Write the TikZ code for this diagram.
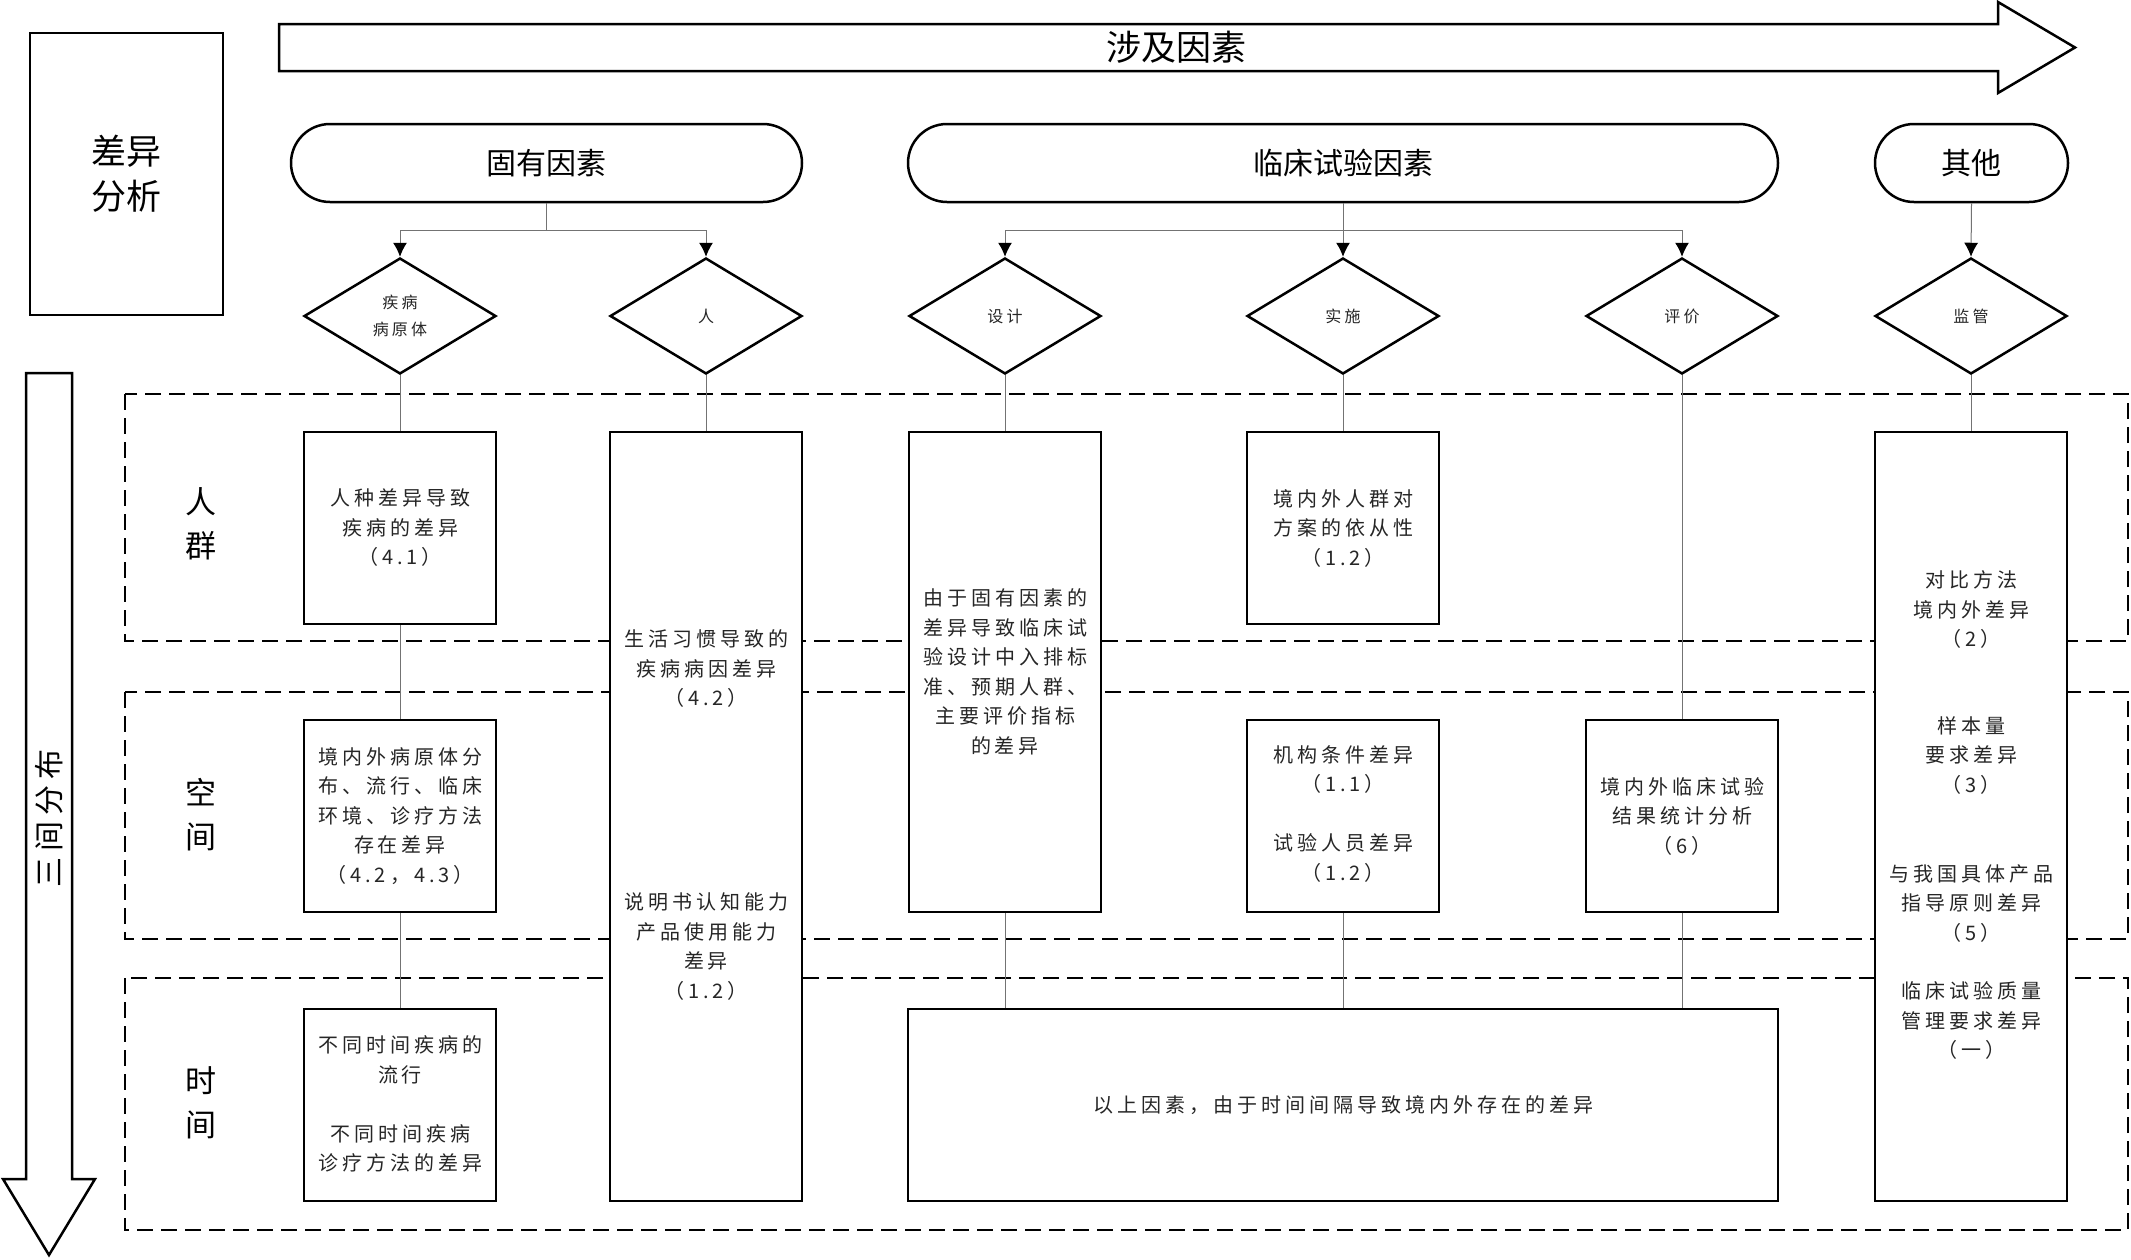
\documentclass[tikz,border=0pt]{standalone}
\usepackage{fontspec}
\setmainfont{Noto Sans CJK SC}
\newfontfamily\myspaced[LetterSpace=20]{Noto Sans CJK SC}
\newfontfamily\myplain{Noto Sans CJK SC}
\usetikzlibrary{shapes.geometric,arrows.meta,backgrounds}
\newcommand\myboxfont{\myspaced\fontsize{20}{29.5}\selectfont}
\newcommand\mydiafont{\myspaced\fontsize{16}{27}\selectfont}
\newcommand\mystadfont{\myplain\fontsize{30}{36}\selectfont}
\newcommand\mytitlefont{\myplain\fontsize{35}{45}\selectfont}
\newcommand\mysidefont{\myplain\fontsize{31}{44}\selectfont}
\begin{document}
\begin{tikzpicture}[x=1pt,y=-1pt,
  box/.style={draw,line width=2.5pt,fill=white,rectangle,inner sep=0pt,minimum width=192pt},
  dia/.style={draw,line width=2.5pt,fill=white,diamond,aspect=1.66,inner sep=0pt,minimum width=192pt,minimum height=116pt,font=\mydiafont,align=center,text=black!85},
  stad/.style={draw,line width=2.5pt,fill=white,rectangle,rounded corners=39pt,minimum height=78pt,inner sep=0pt,font=\mystadfont},
  txt/.style={font=\myboxfont,align=center,text=black!85,inner sep=0pt},
  side/.style={font=\mysidefont,align=center,inner sep=0pt},
  conn/.style={draw=black!55,line width=1pt},
  arr/.style={conn,-{Latex[length=14pt,width=14pt,color=black]}},
  band/.style={draw,line width=2.5pt,dash pattern=on 16pt off 8pt},
  bigarrow/.style={draw,line width=2.5pt,fill=white,line join=miter}
]
\useasboundingbox (0,0) rectangle (2131,1259);

% top-left box
\node[draw,line width=2.5pt,minimum width=193pt,minimum height=282pt,inner sep=0pt,font=\mytitlefont,align=center] (title) at (126.5,174) {差异\\分析};

% big arrows
\draw[bigarrow] (279,24) -- (1998,24) -- (1998,2) -- (2075,47.5) -- (1998,93) -- (1998,71) -- (279,71) -- cycle;
\node[font=\mytitlefont,inner sep=0pt] (factors) at (1176,47) {涉及因素};
\draw[bigarrow] (26,373) -- (72,373) -- (72,1179) -- (95,1179) -- (49,1255) -- (3,1179) -- (26,1179) -- cycle;
\node[font=\myspaced\fontsize{30}{36}\selectfont,rotate=90,inner sep=0pt] (dist) at (49,818) {三间分布};

% stadiums
\node[stad,minimum width=511pt] (gy) at (546.5,163) {固有因素};
\node[stad,minimum width=870pt] (lc) at (1343,163) {临床试验因素};
\node[stad,minimum width=193pt] (qt) at (1971.5,163) {其他};

% diamonds
\node[dia] (d1) at (400,316) {疾病\\病原体};
\node[dia] (d2) at (706,316) {人};
\node[dia] (d3) at (1005,316) {设计};
\node[dia] (d4) at (1343,316) {实施};
\node[dia] (d5) at (1682,316) {评价};
\node[dia] (d6) at (1971,316) {监管};

% bands
\begin{pgfonlayer}{background}
\draw[band] (125,394) rectangle (2128,641);
\draw[band] (125,692) rectangle (2128,939);
\draw[band] (125,978) rectangle (2128,1230);
\end{pgfonlayer}
\node[side] (s1) at (201,524) {人\\群};
\node[side] (s2) at (201,815) {空\\间};
\node[side] (s3) at (201,1103) {时\\间};

% boxes
\node[box,minimum height=192pt] (a1) at (400,528) {};
\node[txt] (a1t) at (400,528) {人种差异导致\\疾病的差异\\（4.1）};
\node[box,minimum height=192pt] (a2) at (400,816) {};
\node[txt] (a2t) at (400,816) {境内外病原体分\\布、流行、临床\\环境、诊疗方法\\存在差异\\（4.2，4.3）};
\node[box,minimum height=192pt] (a3) at (400,1105) {};
\node[txt] (a3t) at (400,1104) {不同时间疾病的\\流行\\[29.5pt]不同时间疾病\\诊疗方法的差异};

\node[box,minimum height=769pt] (b) at (706,816.5) {};
\node[txt] (bt1) at (706,669) {生活习惯导致的\\疾病病因差异\\（4.2）};
\node[txt] (bt2) at (706,946.5) {说明书认知能力\\产品使用能力\\差异\\（1.2）};

\node[box,minimum height=480pt] (c) at (1005,672) {};
\node[txt] (ct) at (1005,672) {由于固有因素的\\差异导致临床试\\验设计中入排标\\准、预期人群、\\主要评价指标\\的差异};

\node[box,minimum height=192pt] (e1) at (1343,528) {};
\node[txt] (e1t) at (1343,528) {境内外人群对\\方案的依从性\\（1.2）};
\node[box,minimum height=192pt] (e2) at (1343,816) {};
\node[txt] (e2t) at (1343,814) {机构条件差异\\（1.1）\\[29.5pt]试验人员差异\\（1.2）};

\node[box,minimum height=192pt] (f) at (1682,816) {};
\node[txt] (ft) at (1682,816) {境内外临床试验\\结果统计分析\\（6）};

\node[box,minimum width=870pt,minimum height=192pt] (g) at (1343,1105) {};
\node[txt] (gt) at (1343,1105) {以上因素，由于时间间隔导致境内外存在的差异};

\node[box,minimum height=769pt] (h) at (1971,816.5) {};
\node[txt] (ht1) at (1971,609.5) {对比方法\\境内外差异\\（2）};
\node[txt] (ht2) at (1971,755.5) {样本量\\要求差异\\（3）};
\node[txt] (ht3) at (1971,903.5) {与我国具体产品\\指导原则差异\\（5）};
\node[txt] (ht4) at (1971,1020.5) {临床试验质量\\管理要求差异\\（一）};

% connectors from stadiums
\coordinate (j1) at (546.5,230);
\coordinate (j2) at (1343,230);
\draw[conn] (gy.south) -- (j1);
\draw[arr] (j1) -| (d1.north);
\draw[arr] (j1) -| (d2.north);
\draw[conn] (lc.south) -- (j2);
\draw[arr] (j2) -| (d3.north);
\draw[arr] (j2) -- (d4.north);
\draw[arr] (j2) -| (d5.north);
\draw[arr] (qt.south) -- (d6.north);

% vertical connectors
\draw[conn] (d1.south) -- (a1.north);
\draw[conn] (a1.south) -- (a2.north);
\draw[conn] (a2.south) -- (a3.north);
\draw[conn] (d2.south) -- (b.north);
\draw[conn] (d3.south) -- (c.north);
\draw[conn] (d4.south) -- (e1.north);
\draw[conn] (d5.south) -- (f.north);
\draw[conn] (d6.south) -- (h.north);
\draw[conn] (c.south) -- (c.south |- g.north);
\draw[conn] (e2.south) -- (e2.south |- g.north);
\draw[conn] (f.south) -- (f.south |- g.north);
\end{tikzpicture}
\end{document}
